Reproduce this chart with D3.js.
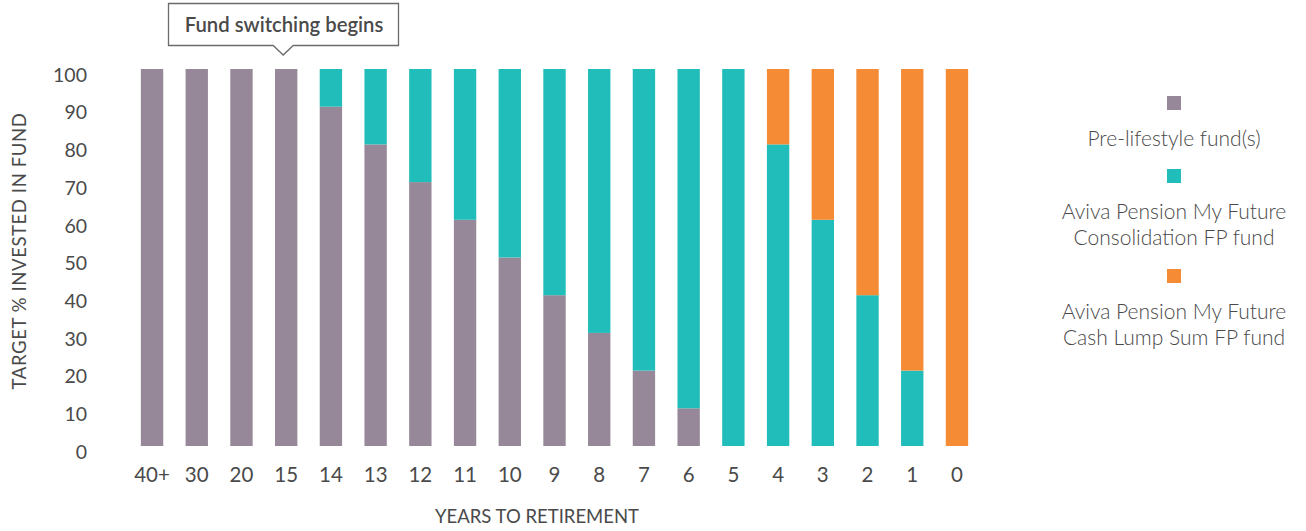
<!DOCTYPE html>
<html>
<head>
<meta charset="utf-8">
<script src="https://cdn.jsdelivr.net/npm/d3@7"></script>
<style>
  body { margin: 0; background: #fff; }
  text { font-family: "Source Sans Pro", Lato, "Open Sans", sans-serif; fill: #4a4a4a; }
</style>
</head>
<body>
<div id="chart"></div>
<script>
var years = ["40+", "30", "20", "15", "14", "13", "12", "11", "10", "9", "8", "7", "6", "5", "4", "3", "2", "1", "0"];
var preLifestyle = [100, 100, 100, 100, 90, 80, 70, 60, 50, 40, 30, 20, 10, 0, 0, 0, 0, 0, 0];
var consolidation = [0, 0, 0, 0, 10, 20, 30, 40, 50, 60, 70, 80, 90, 100, 80, 60, 40, 20, 0];
var cashLumpSum = [0, 0, 0, 0, 0, 0, 0, 0, 0, 0, 0, 0, 0, 0, 20, 40, 60, 80, 100];
var seriesNames = [["Pre-lifestyle fund(s)"], ["Aviva Pension My Future", "Consolidation FP fund"], ["Aviva Pension My Future", "Cash Lump Sum FP fund"]];
var colors = ["#968898", "#20bdba", "#f58c35"];
var yTicks = [0, 10, 20, 30, 40, 50, 60, 70, 80, 90, 100];

var svgWidth = 1306;
var svgHeight = 531;

var svg = d3.select("#chart")
  .append("svg")
  .attr("width", svgWidth)
  .attr("height", svgHeight);

// build stack rows
var rows = years.map(function(y, i) {
  return { year: y, a: preLifestyle[i], b: consolidation[i], c: cashLumpSum[i] };
});
var stacked = d3.stack().keys(["a", "b", "c"])(rows);

var x = d3.scaleBand()
  .domain(years)
  .range([118.5, 990.5])
  .padding(0.5);

var y = d3.scaleLinear()
  .domain([0, 100])
  .range([446, 69]);

// bars
svg.append("g").selectAll("g")
  .data(stacked)
  .enter()
  .append("g")
  .attr("fill", (d, i) => colors[i])
  .selectAll("rect")
  .data(d => d)
  .enter()
  .append("rect")
  .attr("x", d => x(d.data.year))
  .attr("y", d => y(d[1]))
  .attr("width", x.bandwidth())
  .attr("height", d => y(d[0]) - y(d[1]));

// y axis
var leftAxis = d3.axisLeft(y).tickValues(yTicks).tickSize(0).tickPadding(0);
var yg = svg.append("g")
  .attr("transform", "translate(87, 6)")
  .call(leftAxis);
yg.select(".domain").remove();
yg.selectAll("text").style("font-size", "19.5px").attr("fill", "#4a4a4a");

// x axis
var bottomAxis = d3.axisBottom(x).tickSize(0).tickPadding(0);
var xg = svg.append("g")
  .attr("transform", "translate(0, 467)")
  .call(bottomAxis);
xg.select(".domain").remove();
xg.selectAll("text").style("font-size", "20.5px").attr("fill", "#4a4a4a");

// axis titles
svg.append("text")
  .attr("x", 537)
  .attr("y", 523)
  .attr("text-anchor", "middle")
  .style("font-size", "18.5px")
  .text("YEARS TO RETIREMENT");

svg.append("text")
  .attr("transform", "translate(26, 251) rotate(-90)")
  .attr("text-anchor", "middle")
  .style("font-size", "18.5px")
  .style("letter-spacing", "0.6px")
  .text("TARGET % INVESTED IN FUND");

// callout
var px = x("15") + x.bandwidth() / 2 - 3;
svg.append("path")
  .attr("d", "M168.5,3.5 H398.5 V45.5 H" + (px + 10) + " L" + px + ",55 L" + (px - 10) + ",45.5 H168.5 Z")
  .attr("fill", "#fff")
  .attr("stroke", "#6b6b6b")
  .attr("stroke-width", 1.3);
svg.append("text")
  .attr("x", 284)
  .attr("y", 32)
  .attr("text-anchor", "middle")
  .style("font-size", "20.3px")
  .style("font-weight", "600")
  .attr("fill", "#555")
  .text("Fund switching begins");

// legend
var legendTop = [96, 169, 269];
var legend = svg.append("g");
seriesNames.forEach(function(lines, i) {
  legend.append("rect")
    .attr("x", 1167)
    .attr("y", legendTop[i])
    .attr("width", 14)
    .attr("height", 14)
    .attr("fill", colors[i]);
  lines.forEach(function(line, j) {
    legend.append("text")
      .attr("x", 1174)
      .attr("y", legendTop[i] + 50 + j * 26)
      .attr("text-anchor", "middle")
      .style("font-size", "21px")
      .style("font-weight", "300")
      .text(line);
  });
});
</script>
</body>
</html>
